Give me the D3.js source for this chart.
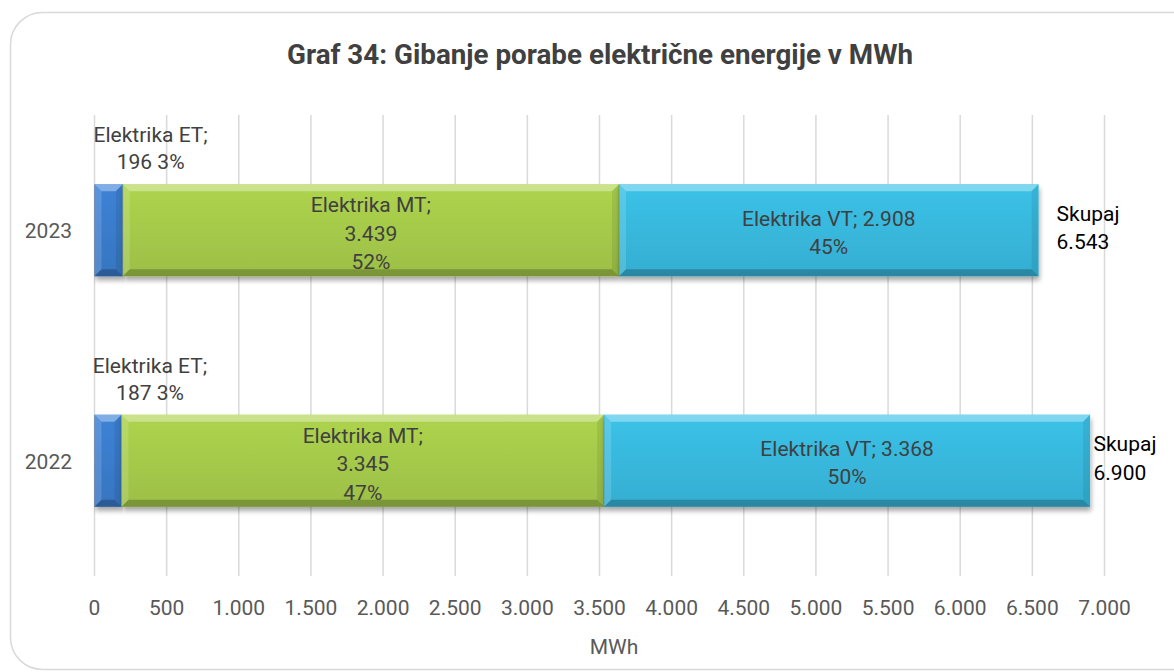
<!DOCTYPE html>
<html><head><meta charset="utf-8">
<script src="https://cdn.jsdelivr.net/npm/d3@7"></script>
<style>
html,body{margin:0;padding:0;background:#fff;}
svg{display:block;font-family:Roboto,"Noto Sans",sans-serif;}
</style></head>
<body><svg id="c" width="1174" height="672"></svg>
<script>
const title = "Graf 34: Gibanje porabe električne energije v MWh";
const years = ["2023", "2022"];
const seriesNames = ["Elektrika ET", "Elektrika MT", "Elektrika VT"];
const et = [196, 187];
const mt = [3439, 3345];
const vt = [2908, 3368];
const etPct = ["3%", "3%"];
const mtPct = ["52%", "47%"];
const vtPct = ["45%", "50%"];
const totals = [6543, 6900];
const xTicks = [0, 500, 1000, 1500, 2000, 2500, 3000, 3500, 4000, 4500, 5000, 5500, 6000, 6500, 7000];
const xTitle = "MWh";
const colors = ["#3a7bcb", "#a5c94a", "#38b8dc"];

const loc = d3.formatLocale({decimal: ",", thousands: ".", grouping: [3], currency: ["", "€"]});
const fmt = loc.format(",d");

const svg = d3.select("#c");
const defs = svg.append("defs");
const f = defs.append("filter").attr("id", "sh").attr("x", "-5%").attr("y", "-20%").attr("width", "110%").attr("height", "150%");
f.append("feGaussianBlur").attr("in", "SourceAlpha").attr("stdDeviation", 2.5).attr("result", "b");
f.append("feOffset").attr("in", "b").attr("dx", 1).attr("dy", 4).attr("result", "o");
f.append("feComponentTransfer").attr("in", "o").attr("result", "o2").append("feFuncA").attr("type", "linear").attr("slope", 0.35);
const m = f.append("feMerge"); m.append("feMergeNode").attr("in", "o2"); m.append("feMergeNode").attr("in", "SourceGraphic");

colors.forEach((c, i) => {
  const g = defs.append("linearGradient").attr("id", "g" + i).attr("x1", 0).attr("y1", 0).attr("x2", 0).attr("y2", 1);
  g.append("stop").attr("offset", "0%").attr("stop-color", d3.color(c).brighter(0.15));
  g.append("stop").attr("offset", "100%").attr("stop-color", d3.color(c).darker(0.15));
});

// outer frame
svg.append("rect").attr("x", 10.5).attr("y", 12.5).attr("width", 1200).attr("height", 657)
  .attr("rx", 32).attr("fill", "#fff").attr("stroke", "#d9d9d9").attr("stroke-width", 1.5);

svg.append("text").attr("x", 600).attr("y", 64).attr("text-anchor", "middle")
  .attr("font-size", 27.5).attr("font-weight", "bold").attr("fill", "#404040")
  .attr("textLength", 626).attr("lengthAdjust", "spacingAndGlyphs").text(title);

const x = d3.scaleLinear().domain([0, 7000]).range([94.5, 1104.5]);
const y = d3.scaleBand().domain(years).range([115, 576]).paddingInner(0.6).paddingOuter(0.3);

// gridlines
svg.append("g").selectAll("line").data(xTicks).join("line")
  .attr("x1", d => x(d)).attr("x2", d => x(d)).attr("y1", 115).attr("y2", 576)
  .attr("stroke", "#d9d9d9").attr("stroke-width", 1.5);

// x tick labels
svg.append("g").selectAll("text").data(xTicks).join("text")
  .attr("x", d => x(d)).attr("y", 615).attr("text-anchor", "middle")
  .attr("font-size", 21).attr("fill", "#595959").text(d => fmt(d));

svg.append("text").attr("x", 614).attr("y", 654).attr("text-anchor", "middle")
  .attr("font-size", 21).attr("fill", "#595959").text(xTitle);

// y labels
svg.append("g").selectAll("text").data(years).join("text")
  .attr("x", 72).attr("y", d => y(d) + y.bandwidth() / 2 + 8).attr("text-anchor", "end")
  .attr("font-size", 21).attr("fill", "#595959").text(d => d);

// stacked data
const rows = years.map((yr, i) => ({year: yr, vals: [et[i], mt[i], vt[i]]}));
const segs = [];
rows.forEach((r, i) => {
  let acc = 0;
  r.vals.forEach((v, k) => { segs.push({year: r.year, k, x0: acc, x1: acc + v, i}); acc += v; });
});

const bars = svg.append("g");
segs.forEach(s => {
  const x0 = x(s.x0), x1 = x(s.x1), y0 = y(s.year), h = y.bandwidth(), y1 = y0 + h;
  const g = bars.append("g");
  g.append("rect").attr("x", x0).attr("y", y0).attr("width", x1 - x0).attr("height", h)
    .attr("fill", `url(#g${s.k})`).attr("filter", "url(#sh)");
  const b = Math.min(7, (x1 - x0) / 2);
  g.append("polygon").attr("points", [[x0, y0], [x1, y0], [x1 - b, y0 + b], [x0 + b, y0 + b]].join(" "))
    .attr("fill", "#fff").attr("opacity", 0.35);
  g.append("polygon").attr("points", [[x0, y0], [x0 + b, y0 + b], [x0 + b, y1 - b], [x0, y1]].join(" "))
    .attr("fill", "#fff").attr("opacity", 0.15);
  g.append("polygon").attr("points", [[x1, y0], [x1 - b, y0 + b], [x1 - b, y1 - b], [x1, y1]].join(" "))
    .attr("fill", "#000").attr("opacity", 0.08);
  g.append("polygon").attr("points", [[x0, y1], [x0 + b, y1 - b], [x1 - b, y1 - b], [x1, y1]].join(" "))
    .attr("fill", "#000").attr("opacity", 0.22);
  g.append("line").attr("x1", x0).attr("x2", x0).attr("y1", y0).attr("y2", y1)
    .attr("stroke", "#000").attr("stroke-opacity", 0.15);
});

const lab = svg.append("g").attr("font-size", 21).attr("fill", "#404040").attr("text-anchor", "middle");
function multi(cx, cy, lines, lh, fill, anchor) {
  const t = lab.append("text").attr("x", cx).attr("y", cy).attr("fill", fill || "#404040").attr("text-anchor", anchor || "middle");
  const n = lines.length;
  lines.forEach((l, j) => {
    t.append("tspan").attr("x", cx).attr("y", cy + (j - (n - 1) / 2) * lh + 7.5).text(l);
  });
}
rows.forEach((r, i) => {
  const y0 = y(r.year), h = y.bandwidth(), cy = y0 + h / 2;
  multi(x(et[i] / 2) + 42, y0 - 36, [seriesNames[0] + ";", fmt(et[i]) + " " + etPct[i]], 27);
  multi((x(et[i]) + x(et[i] + mt[i])) / 2, cy + 3, [seriesNames[1] + ";", fmt(mt[i]), mtPct[i]], 28.5);
  multi((x(et[i] + mt[i]) + x(totals[i])) / 2, cy + 2, [seriesNames[2] + "; " + fmt(vt[i]), vtPct[i]], 28);
  multi(Math.min(x(totals[i]) + 18, x(7000) - 11), cy - 3, ["Skupaj", fmt(totals[i])], 28.5, "#000", "start");
});
</script>
</body></html>
